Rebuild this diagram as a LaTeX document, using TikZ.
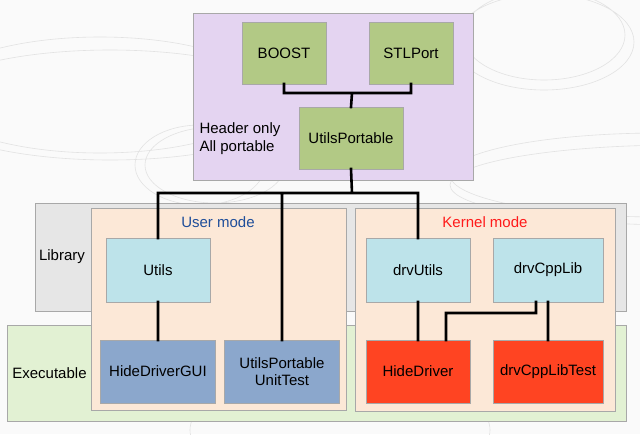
\documentclass[tikz,border=0pt]{standalone}
\usepackage{fontspec}
\setmainfont{Liberation Sans}
\usepackage{xcolor}
\usetikzlibrary{positioning}
\definecolor{headerbg}{HTML}{E4D4F1}
\definecolor{libbg}{HTML}{E6E6E6}
\definecolor{exebg}{HTML}{E2F1D3}
\definecolor{modebg}{HTML}{FCE8D7}
\definecolor{hdrmod}{HTML}{B2C985}
\definecolor{libmod}{HTML}{BDE3EA}
\definecolor{usrexe}{HTML}{8BA7CC}
\definecolor{krnexe}{HTML}{FF4422}
\definecolor{usrtext}{HTML}{1F4E9A}
\definecolor{krntext}{HTML}{FF1A1A}
\definecolor{framegray}{HTML}{A8A8A8}
\definecolor{swirl}{HTML}{E2E2E2}

\begin{document}
\begin{tikzpicture}[x=1pt,y=-1pt,node distance=38pt,
	font=\fontsize{15}{17.5}\selectfont,
	region/.style={draw=framegray,line width=0.8pt},
	module/.style={draw=framegray,line width=0.8pt,inner sep=0pt,outer sep=0pt,minimum height=63pt,align=center},
	link/.style={line width=2.6pt,line cap=rect}]
			\useasboundingbox (0,0) rectangle (640,434);
			\fill[white!98!black] (0,0) rectangle (640,434);
			% swirls
			\draw[swirl,line width=0.6pt] (544,35) ellipse (81 and 45)
				(544,42) ellipse (90 and 48)
				(100,95) ellipse (170 and 58)
				(110,105) ellipse (190 and 55)
				(200,165) ellipse (65 and 40)
				(215,165) ellipse (70 and 38)
				(660,175) ellipse (210 and 42)
				(680,185) ellipse (230 and 40)
				(340,430) ellipse (150 and 60);

			% regions
			\draw[region,fill=libbg] (35,203) rectangle (626,311);
			\draw[region,fill=exebg] (7,325) rectangle (626,421);
			\draw[region,fill=modebg] (91,208) rectangle (346,410);
			\draw[region,fill=modebg] (355,208) rectangle (615,411);
			\draw[region,fill=headerbg] (193,13) rectangle (473,180);

			\node[anchor=west,align=left] (hdrlabel) at (196,138.5) {Header only\\All portable};
			\node (liblabel) at (62,257) {Library};
			\node (exelabel) at (49.5,373) {Executable};
			\node[text=usrtext] (usrlabel) at (218,222) {User mode};
			\node[text=krntext] (krnlabel) at (485,222) {Kernel mode};

			% modules
			\node[module,fill=hdrmod,minimum width=84pt,minimum height=62pt] (boost) at (284,53) {BOOST};
			\node[module,fill=hdrmod,minimum width=84pt,minimum height=62pt] (stlport) [right=43pt of boost] {STLPort};
			\node[module,fill=hdrmod,minimum width=104pt,minimum height=62pt] (utilsp) at (351,138) {UtilsPortable};
			\node[module,fill=libmod,minimum width=104pt,minimum height=64pt] (utils) at (158,270) {Utils};
			\node[module,fill=libmod,minimum width=104pt,minimum height=64pt] (drvutils) at (418,270) {drvUtils};
			\node[module,fill=libmod,minimum width=110pt,minimum height=64pt] (drvcpplib) [right=23pt of drvutils] {drvCppLib};
			\node[module,fill=usrexe,minimum width=115pt] (hdgui) [below=of utils] {HideDriverGUI};
			\node[module,fill=usrexe,minimum width=115pt] (unittest) [right=9pt of hdgui] {UtilsPortable\\UnitTest};
			\node[module,fill=krnexe,minimum width=104pt] (hidedrv) [below=of drvutils] {HideDriver};
			\node[module,fill=krnexe,minimum width=110pt] (cpptest) [below=of drvcpplib] {drvCppLibTest};

			% links
			\coordinate (hdrjoin) at (352,93);
			\coordinate (bus) at (352,193);
			\coordinate (kbend) at (446,313);
			\draw[link] (boost.south) |- (hdrjoin) -| (stlport.south)
				(hdrjoin) -- (utilsp.north)
				(utilsp.south) -- (bus)
				(utils.north) |- (bus) -| (drvutils.north)
				(unittest.north) -- (unittest.north |- bus)
				(utils.south) -- (hdgui.north)
				(drvutils.south) -- (hidedrv.north)
				([xshift=-12pt]drvcpplib.south) |- (kbend) -- (kbend |- hidedrv.north)
				(drvcpplib.south) -- (cpptest.north);
		\end{tikzpicture}
\end{document}
